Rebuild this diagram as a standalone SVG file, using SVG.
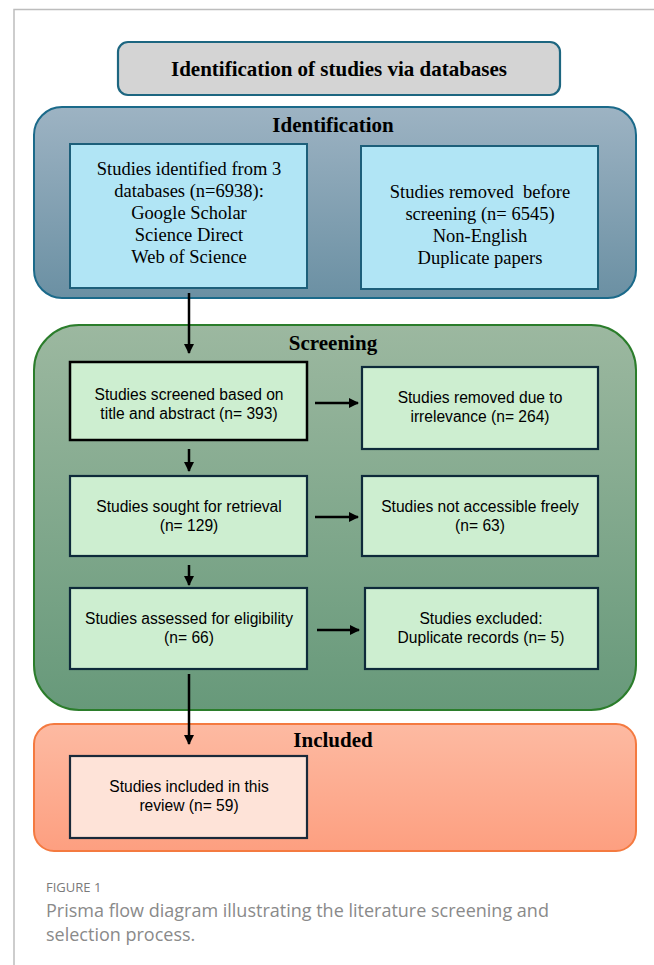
<svg xmlns="http://www.w3.org/2000/svg" width="654" height="965" viewBox="0 0 654 965">
<defs>
<linearGradient id="gId" x1="0" y1="0" x2="0" y2="1"><stop offset="0" stop-color="#9db3c3"/><stop offset="1" stop-color="#6b90a3"/></linearGradient>
<linearGradient id="gSc" x1="0" y1="0" x2="0" y2="1"><stop offset="0" stop-color="#9cb8a0"/><stop offset="1" stop-color="#67997a"/></linearGradient>
<linearGradient id="gIn" x1="0" y1="0" x2="0" y2="1"><stop offset="0" stop-color="#fdbaa2"/><stop offset="1" stop-color="#fd9f80"/></linearGradient>
<marker id="ah" viewBox="0 0 10 10" refX="9" refY="5" markerWidth="4" markerHeight="4" orient="auto" markerUnits="strokeWidth"><path d="M0,0 L10,5 L0,10 z" fill="#000"/></marker>
</defs>
<style>
.ttl{font-family:"Liberation Serif",serif;font-weight:bold;font-size:21px;fill:#000;text-anchor:middle}
.sec{font-family:"Liberation Serif",serif;font-weight:bold;font-size:21px;fill:#000;text-anchor:middle}
.ser{font-family:"Liberation Serif",serif;font-size:18.5px;fill:#000;text-anchor:middle;white-space:pre}
.san{font-family:"Liberation Sans",sans-serif;font-size:15.6px;fill:#000;text-anchor:middle}
.bxI{fill:#b1e5f5;stroke:#1d5f7a;stroke-width:2}
.bxS{fill:#cdeed0;stroke:#0e2a3a;stroke-width:2.2}
.bxInc{fill:#fee3d8;stroke:#1a2a3a;stroke-width:2.2}
.con{stroke:#000;stroke-width:2.5;fill:none;marker-end:url(#ah)}
.cap1{font-family:"Open Sans",sans-serif;font-size:13px;fill:#7a7a7a}
.cap2{font-family:"Open Sans",sans-serif;font-size:18px;fill:#8a8a8a}
</style>
<rect width="654" height="965" fill="#fff"/>
<path d="M14,965 V9.5 H654" fill="none" stroke="#bdbdbd" stroke-width="1.5"/>

<g id="title">
<rect x="118" y="42" width="442" height="53" rx="10" fill="#d4d4d4" stroke="#1d6680" stroke-width="2.2"/>
<text class="ttl" x="339" y="76">Identification of studies via databases</text>
</g>

<g id="panel-identification">
<rect x="34" y="107" width="602" height="191" rx="28" fill="url(#gId)" stroke="#1b6a8a" stroke-width="2"/>
<text class="sec" x="333" y="132">Identification</text>
</g>
<g id="identified">
<rect class="bxI" x="70" y="144" width="237" height="144"/>
<text class="ser" x="189" y="175">Studies identified from 3</text>
<text class="ser" x="189" y="197">databases (n=6938):</text>
<text class="ser" x="189" y="219">Google Scholar</text>
<text class="ser" x="189" y="241">Science Direct</text>
<text class="ser" x="189" y="263">Web of Science</text>
</g>
<g id="removed-before">
<rect class="bxI" x="361" y="146" width="237" height="143"/>
<text class="ser" x="480" y="198">Studies removed  before</text>
<text class="ser" x="480" y="220">screening (n= 6545)</text>
<text class="ser" x="480" y="242">Non-English</text>
<text class="ser" x="480" y="264">Duplicate papers</text>
</g>

<g id="panel-screening">
<rect x="34" y="325" width="602" height="385" rx="45" fill="url(#gSc)" stroke="#2b7d2b" stroke-width="2"/>
<text class="sec" x="333" y="350">Screening</text>
</g>
<g id="screened">
<rect class="bxS" x="70" y="362" width="237" height="78" style="stroke:#000;stroke-width:2.5"/>
<text class="san" x="189" y="400">Studies screened based on</text>
<text class="san" x="189" y="419">title and abstract (n= 393)</text>
</g>
<g id="removed-irrelevance">
<rect class="bxS" x="362" y="367" width="236" height="82"/>
<text class="san" x="480" y="403">Studies removed due to</text>
<text class="san" x="480" y="422">irrelevance (n= 264)</text>
</g>
<g id="sought">
<rect class="bxS" x="70" y="476" width="237" height="80"/>
<text class="san" x="189" y="512">Studies sought for retrieval</text>
<text class="san" x="189" y="531">(n= 129)</text>
</g>
<g id="not-accessible">
<rect class="bxS" x="362" y="476" width="236" height="80"/>
<text class="san" x="480" y="512">Studies not accessible freely</text>
<text class="san" x="480" y="531">(n= 63)</text>
</g>
<g id="assessed">
<rect class="bxS" x="70" y="588" width="237" height="81"/>
<text class="san" x="189" y="624">Studies assessed for eligibility</text>
<text class="san" x="189" y="643">(n= 66)</text>
</g>
<g id="excluded">
<rect class="bxS" x="365" y="588" width="233" height="81"/>
<text class="san" x="481" y="624">Studies excluded:</text>
<text class="san" x="481" y="643">Duplicate records (n= 5)</text>
</g>

<g id="panel-included">
<rect x="34" y="724" width="602" height="127" rx="20" fill="url(#gIn)" stroke="#f47a40" stroke-width="2"/>
<text class="sec" x="333" y="747">Included</text>
</g>
<g id="included">
<rect class="bxInc" x="70" y="756" width="237" height="82"/>
<text class="san" x="189" y="792">Studies included in this</text>
<text class="san" x="189" y="811">review (n= 59)</text>
</g>

<g id="connectors">
<line class="con" x1="189" y1="293" x2="189" y2="353"/>
<line class="con" x1="315" y1="403" x2="358" y2="403"/>
<line class="con" x1="189" y1="449" x2="189" y2="471"/>
<line class="con" x1="315" y1="517" x2="358" y2="517"/>
<line class="con" x1="189" y1="565" x2="189" y2="585"/>
<line class="con" x1="317" y1="630" x2="359" y2="630"/>
<line class="con" x1="189" y1="674" x2="189" y2="744"/>
</g>

<g id="caption">
<text class="cap1" x="46" y="892">FIGURE 1</text>
<text class="cap2" x="46" y="917">Prisma flow diagram illustrating the literature screening and</text>
<text class="cap2" x="46" y="941">selection process.</text>
</g>
</svg>
